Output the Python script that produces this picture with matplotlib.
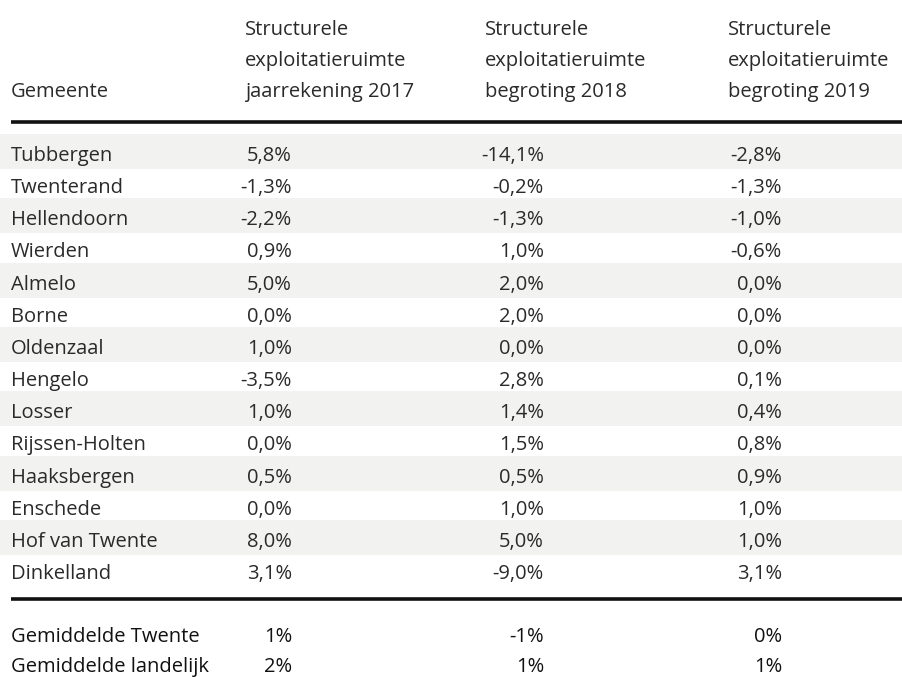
import matplotlib
matplotlib.use('Agg')
import matplotlib.pyplot as plt

# data
gemeenten = ['Tubbergen', 'Twenterand', 'Hellendoorn', 'Wierden', 'Almelo', 'Borne',
             'Oldenzaal', 'Hengelo', 'Losser', 'Rijssen-Holten', 'Haaksbergen',
             'Enschede', 'Hof van Twente', 'Dinkelland']
jr_2017 = [5.8, -1.3, -2.2, 0.9, 5.0, 0.0, 1.0, -3.5, 1.0, 0.0, 0.5, 0.0, 8.0, 3.1]
begr_2018 = [-14.1, -0.2, -1.3, 1.0, 2.0, 2.0, 0.0, 2.8, 1.4, 1.5, 0.5, 1.0, 5.0, -9.0]
begr_2019 = [-2.8, -1.3, -1.0, -0.6, 0.0, 0.0, 0.0, 0.1, 0.4, 0.8, 0.9, 1.0, 1.0, 3.1]

first_col = 'Gemeente'
col_headers = [['Structurele', 'exploitatieruimte', 'jaarrekening 2017'],
               ['Structurele', 'exploitatieruimte', 'begroting 2018'],
               ['Structurele', 'exploitatieruimte', 'begroting 2019']]

gem_labels = ['Gemiddelde Twente', 'Gemiddelde landelijk']
gem_2017 = [1, 2]
gem_2018 = [-1, 1]
gem_2019 = [0, 1]

def pct(v, dec=1):
    return f'{v:.{dec}f}'.replace('.', ',') + '%'

W, H = 903, 677
fig = plt.figure(figsize=(W / 100, H / 100), dpi=100)
ax = fig.add_axes([0, 0, 1, 1])
ax.set_xlim(0, W)
ax.set_ylim(H, 0)
ax.axis('off')

font = 'Open Sans'
fs = 14.5
txt_col = '#2a2a2a'
stripe = '#f2f2f1'

label_x = 11
head_x = [245, 485, 728]
val_right = [292, 544, 782]
head_base = [35, 66, 97]
first_base = 161
pitch = 32.15

# header
ax.text(label_x, head_base[-1], first_col, family=font, fontsize=fs, color=txt_col,
        va='baseline')
for hx, lines in zip(head_x, col_headers):
    for yb, line in zip(head_base, lines):
        ax.text(hx, yb, line, family=font, fontsize=fs, color=txt_col, va='baseline')
ax.plot([label_x, W], [122, 122], color='#111111', lw=2.6, solid_capstyle='butt')

# rows
for i, name in enumerate(gemeenten):
    y = first_base + i * pitch
    if i % 2 == 0:
        ax.axhspan(y - 27, y + 8, color=stripe, lw=0, zorder=0)
    ax.text(label_x, y, name, family=font, fontsize=fs, color=txt_col, va='baseline')
    for xr, col in zip(val_right, [jr_2017, begr_2018, begr_2019]):
        ax.text(xr, y, pct(col[i]), family=font, fontsize=fs, color=txt_col,
                va='baseline', ha='right')

ax.plot([label_x, W], [599, 599], color='#111111', lw=2.6, solid_capstyle='butt')

# averages
for j, name in enumerate(gem_labels):
    y = 642 + j * 30
    ax.text(label_x, y, name, family=font, fontsize=fs, color='#111111', va='baseline')
    for xr, col in zip(val_right, [gem_2017, gem_2018, gem_2019]):
        ax.text(xr, y, pct(col[j], 0), family=font, fontsize=fs, color='#111111',
                va='baseline', ha='right')

fig.savefig('out.png', dpi=100)
